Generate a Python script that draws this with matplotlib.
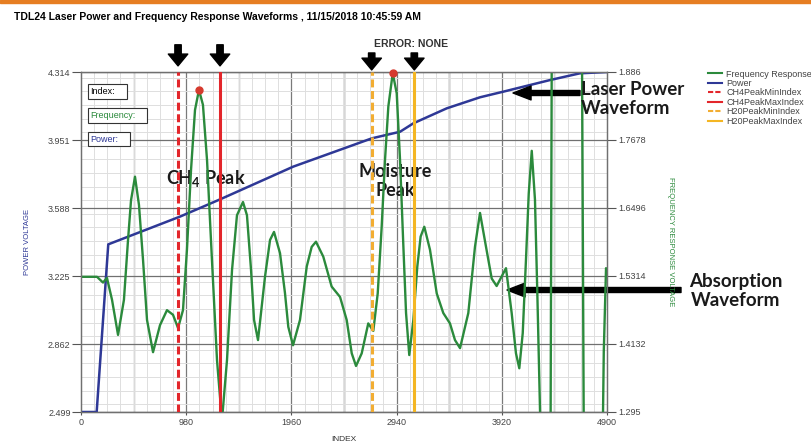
import numpy as np
import matplotlib.pyplot as plt
from matplotlib.lines import Line2D
from matplotlib.patches import Rectangle
from matplotlib.ticker import MultipleLocator

plt.rcParams['font.family'] = ['Liberation Sans', 'DejaVu Sans']
plt.rcParams['mathtext.fontset'] = 'custom'
plt.rcParams['mathtext.rm'] = 'Lato:bold'
plt.rcParams['mathtext.bf'] = 'Lato:bold'
plt.rcParams['mathtext.default'] = 'bf'

W, H = 812, 444

# axis ticks
power_ticks = [2.499, 2.862, 3.225, 3.588, 3.951, 4.314]
power_labels = ['2.499', '2.862', '3.225', '3.588', '3.951', '4.314']
freq_ticks = [1.295, 1.4132, 1.5314, 1.6496, 1.7678, 1.886]
freq_labels = ['1.295', '1.4132', '1.5314', '1.6496', '1.7678', '1.886']
index_ticks = [0, 980, 1960, 2940, 3920, 4900]

# laser power waveform (left axis)
power_idx = [0, 146, 254, 922, 1295, 1978, 2710, 2972, 3096, 3407, 3717,
             3934, 4369, 4648, 4900]
power_v = [2.499, 2.499, 3.394, 3.542, 3.634, 3.809, 3.960, 3.995, 4.040,
           4.120, 4.179, 4.209, 4.271, 4.307, 4.314]

# frequency response / absorption waveform (right axis)
freq_idx = [0, 149, 205, 242, 289, 345, 400, 438, 466, 503, 540, 578, 615,
            671, 736, 801, 857, 904, 950, 987, 1025, 1062, 1099, 1136, 1174,
            1220, 1267, 1313, 1360, 1407, 1453, 1509, 1546, 1584, 1612, 1649,
            1714, 1761, 1798, 1854, 1900, 1931, 1975, 2040, 2103, 2149, 2189,
            2257, 2335, 2413, 2475, 2522, 2562, 2615, 2676, 2723, 2764, 2801,
            2832, 2863, 2904, 2941, 2972, 3002, 3028, 3058, 3096, 3133, 3164,
            3198, 3251, 3314, 3375, 3437, 3484, 3531, 3608, 3670, 3717, 3773,
            3826, 3872, 3959, 4012, 4052, 4083, 4115, 4145, 4171, 4199, 4229,
            4251, 4276, 4290, 4330, 4370, 4390, 4520, 4660, 4690, 4770, 4850,
            4870, 4891, 4900]
freq_v = [1.530, 1.530, 1.520, 1.528, 1.490, 1.429, 1.490, 1.594, 1.663,
          1.704, 1.655, 1.559, 1.455, 1.399, 1.446, 1.472, 1.464, 1.441,
          1.472, 1.577, 1.716, 1.820, 1.855, 1.829, 1.733, 1.559, 1.385,
          1.280, 1.385, 1.542, 1.637, 1.660, 1.637, 1.542, 1.455, 1.420,
          1.530, 1.594, 1.608, 1.571, 1.502, 1.443, 1.411, 1.455, 1.548,
          1.582, 1.591, 1.565, 1.513, 1.495, 1.455, 1.397, 1.375, 1.397,
          1.449, 1.436, 1.501, 1.617, 1.733, 1.826, 1.884, 1.849, 1.733,
          1.588, 1.467, 1.394, 1.455, 1.548, 1.600, 1.617, 1.577, 1.501,
          1.467, 1.449, 1.420, 1.406, 1.467, 1.582, 1.641, 1.582, 1.527,
          1.514, 1.545, 1.467, 1.397, 1.371, 1.432, 1.559, 1.675, 1.749,
          1.664, 1.501, 1.298, 1.20, -1.0, 1.0, 2.2, 4.0, 2.2, 1.0, -1.0,
          1.1, 1.40, 1.545, 1.535]

ch4_min, ch4_max = 904, 1295
h2o_min, h2o_max = 2708, 3105

GREEN = '#2b8a3c'
NAVY = '#2e3896'
RED = '#e3262b'
ORANGE = '#f2ad32'
YELLOW = '#f4b623'


def fx(x):
    return x / W


def fy(y):
    return 1 - y / H


fig = plt.figure(figsize=(W / 100, H / 100), dpi=100)
fig.add_artist(Rectangle((0, fy(3)), 1, 3 / H, color='#e67e22',
                         transform=fig.transFigure))
fig.text(fx(14), fy(17), 'TDL24 Laser Power and Frequency Response Waveforms , '
         '11/15/2018 10:45:59 AM', fontsize=7.5, weight='bold', va='center')
fig.text(fx(411), fy(44), 'ERROR: NONE', fontsize=7.5, weight='bold',
         color='#333333', ha='center', va='center')

ax = fig.add_axes([fx(81), fy(412), 526 / W, 340 / H])
ax2 = ax.twinx()

ax.set_xlim(0, 4900)
ax.set_ylim(power_ticks[0], power_ticks[-1])
ax2.set_ylim(freq_ticks[0], freq_ticks[-1])

# grid
ax.xaxis.set_minor_locator(MultipleLocator(122.5))
ax.yaxis.set_minor_locator(MultipleLocator((power_ticks[1] - power_ticks[0]) / 5))
ax.grid(which='minor', color='#dedede', lw=0.7)
ax.grid(which='major', axis='y', color='#707070', lw=0.9)
for k in range(1, 10):
    c = '#111111' if k in (5, 7) else '#7a7a7a'
    ax.axvline(k * 490, color=c, lw=0.9, zorder=0.5)
ax.tick_params(which='minor', length=0)

ax.set_xticks(index_ticks)
ax.set_yticks(power_ticks)
ax.set_yticklabels(power_labels)
ax2.set_yticks(freq_ticks)
ax2.set_yticklabels(freq_labels)
ax.tick_params(axis='y', length=6.5, width=0.8, color='#555555', pad=1,
               labelsize=6.5, labelcolor='#444444')
ax2.tick_params(axis='y', length=6.5, width=0.8, color='#555555', pad=2,
                labelsize=6.5, labelcolor='#444444')
ax.tick_params(axis='x', length=2.5, width=0.8, color='#555555', pad=2,
               labelsize=6.5, labelcolor='#444444')
for a in (ax, ax2):
    for s in a.spines.values():
        s.set_color('#707070')
        s.set_linewidth(0.9)
ax.spines['bottom'].set_color('#444444')

ax.set_ylabel('POWER VOLTAGE', fontsize=5.5, color=NAVY, labelpad=12)
ax2.set_ylabel('FREQUENCY RESPONSE VOLTAGE', fontsize=5.5, color=GREEN,
               rotation=270, labelpad=20)
ax.set_xlabel('INDEX', fontsize=6, color='#333333', labelpad=6)

ax.plot(power_idx, power_v, color=NAVY, lw=1.8, zorder=3)
ax2.plot(freq_idx, freq_v, color=GREEN, lw=1.7, zorder=2)

ax2.axvline(ch4_min, color=RED, lw=2.2, ls=(0, (2.6, 1.2)), zorder=4)
ax2.axvline(ch4_max, color=RED, lw=2.2, zorder=4)
ax2.axvline(h2o_min, color=ORANGE, lw=2.2, ls=(0, (2.6, 1.2)), zorder=4)
ax2.axvline(h2o_max, color=YELLOW, lw=2.2, zorder=4)

# peak dots
fi = np.array(freq_idx)
fv = np.array(freq_v)
for lo, hi in [(ch4_min, ch4_max), (h2o_min, h2o_max)]:
    m = (fi >= lo) & (fi <= hi)
    j = np.argmax(np.where(m, fv, -np.inf))
    ax2.plot(fi[j], fv[j], 'o', ms=5, color='#d63a2e', zorder=6, clip_on=False)

# marker arrows above the plot (tip, tail in axes fraction)
arrow_span = {ch4_min: (1.018, 1.080), ch4_max: (1.018, 1.080),
              h2o_min: (1.006, 1.056), h2o_max: (1.006, 1.056)}
for xi, (tip, tail) in arrow_span.items():
    ax2.annotate('', xy=(xi, tip), xytext=(xi, tail),
                 xycoords=('data', 'axes fraction'),
                 textcoords=('data', 'axes fraction'),
                 arrowprops=dict(width=4.6, headwidth=14, headlength=8.5,
                                 color='black', shrink=0),
                 annotation_clip=False)

# in-plot labels
ax.text(792, 3.743, r'CH$_4$ Peak', fontfamily='Lato', fontsize=13,
        weight='bold', ha='left', va='center', color='#1a1a1a', zorder=7)
ax.text(2925, 3.732, 'Moisture\nPeak', fontfamily='Lato', fontsize=13,
        weight='bold', ha='center', va='center', color='#1a1a1a',
        linespacing=1.2, zorder=7)

# top-left info boxes
boxes = [('Index:', 'black', 88, 84, 39, 15),
         ('Frequency:', GREEN, 88, 108, 59, 15),
         ('Power:', NAVY, 88, 132, 42, 14)]
for txt, col, bx, by, bw, bh in boxes:
    fig.add_artist(Rectangle((fx(bx), fy(by + bh)), bw / W, bh / H,
                             facecolor='white', edgecolor='#333333', lw=0.8,
                             transform=fig.transFigure, zorder=8))
    fig.text(fx(bx + 2), fy(by + bh / 2), txt, fontsize=6.5, color=col,
             va='center', zorder=9)

# callouts on the right
ax.annotate('', xy=(513, H - 93), xytext=(580, H - 93),
            xycoords='figure pixels', textcoords='figure pixels',
            arrowprops=dict(width=3.6, headwidth=10, headlength=13,
                            color='black', shrink=0),
            annotation_clip=False, zorder=9)
ax.annotate('', xy=(507, H - 290), xytext=(681, H - 290),
            xycoords='figure pixels', textcoords='figure pixels',
            arrowprops=dict(width=3.6, headwidth=10, headlength=13,
                            color='black', shrink=0),
            annotation_clip=False, zorder=9)
fig.text(fx(581), fy(99), 'Laser Power\nWaveform', fontfamily='Lato',
         fontsize=13.5, weight='bold', ha='left', va='center', linespacing=1.15,
         color='#1a1a1a')
fig.text(fx(736), fy(291), 'Absorption\nWaveform', fontfamily='Lato',
         fontsize=13.5, weight='bold', ha='center', va='center',
         linespacing=1.15, color='#1a1a1a')

handles = [Line2D([], [], color=GREEN, lw=1.5),
           Line2D([], [], color=NAVY, lw=1.5),
           Line2D([], [], color=RED, lw=1.5, ls=(0, (2.5, 1))),
           Line2D([], [], color=RED, lw=1.5),
           Line2D([], [], color=ORANGE, lw=1.5, ls=(0, (2.5, 1))),
           Line2D([], [], color=YELLOW, lw=1.5)]
labels = ['Frequency Response', 'Power', 'CH4PeakMinIndex', 'CH4PeakMaxIndex',
          'H20PeakMinIndex', 'H20PeakMaxIndex']
fig.legend(handles, labels, loc='upper left', bbox_to_anchor=(fx(703), fy(65)),
           fontsize=6.5, frameon=False, handlelength=1.6, handletextpad=0.5,
           labelspacing=0.05, borderpad=0, labelcolor='#444444')

fig.savefig('out.png', dpi=100)
